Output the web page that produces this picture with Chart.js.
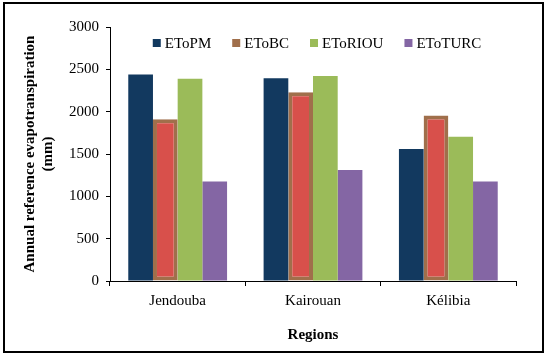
<!DOCTYPE html>
<html>
<head>
<meta charset="utf-8">
<script src="https://cdn.jsdelivr.net/npm/chart.js@4.4.0/dist/chart.umd.min.js"></script>
<style>
  body { margin: 0; background: #fff; }
  #wrap { position: relative; width: 550px; height: 358px; }
  #frame { position: absolute; left: 3px; top: 2px; width: 537px; height: 347px; border: 2px solid #000; pointer-events: none; }
</style>
</head>
<body>
<div id="wrap">
  <canvas id="etoChart" width="550" height="358"></canvas>
  <div id="frame"></div>
</div>
<script>
// Regions and annual ETo per method (mm)
const regions = ['Jendouba', 'Kairouan', 'Kélibia'];
const etoPM = [2440, 2395, 1560];
const etoBC = [1910, 2230, 1955];
const etoRIOU = [2390, 2420, 1705];
const etoTURC = [1175, 1310, 1175];
const yTicks = [0, 500, 1000, 1500, 2000, 2500, 3000];

const serif = "'Liberation Serif', 'Times New Roman', serif";

// legend drawn inside the plot area, one row near the top
const innerLegend = {
  id: 'innerLegend',
  afterDraw(chart) {
    const c = chart.ctx;
    const area = chart.chartArea;
    const box = 8, gap = 4, itemGap = 21;
    c.save();
    c.font = '15px ' + serif;
    c.textBaseline = 'middle';
    const items = chart.data.datasets.map(ds => ({
      text: ds.label,
      color: ds.borderColor || ds.backgroundColor,
      w: box + gap + c.measureText(ds.label).width
    }));
    const total = items.reduce((s, it) => s + it.w, 0) + itemGap * (items.length - 1);
    let x = (area.left + area.right) / 2 - total / 2 + 4;
    const y = area.top + 16;
    items.forEach(it => {
      c.fillStyle = it.color;
      c.fillRect(x, y - box / 2, box, box);
      c.fillStyle = '#000';
      c.fillText(it.text, x + box + gap, y + 1);
      x += it.w + itemGap;
    });
    c.restore();
  }
};

const ctx = document.getElementById('etoChart').getContext('2d');
const etoChart = new Chart(ctx, {
  type: 'bar',
  data: {
    labels: regions,
    datasets: [
      { label: 'EToPM', data: etoPM, backgroundColor: '#12395f' },
      { label: 'EToBC', data: etoBC, backgroundColor: '#d8504b', borderColor: '#a06f4b', borderWidth: 4, borderSkipped: false },
      { label: 'EToRIOU', data: etoRIOU, backgroundColor: '#9bbb59' },
      { label: 'EToTURC', data: etoTURC, backgroundColor: '#8466a4' }
    ]
  },
  plugins: [innerLegend],
  options: {
    responsive: false,
    animation: false,
    categoryPercentage: 0.73,
    barPercentage: 1.0,
    layout: { padding: { left: 10, top: 27, right: 34, bottom: 14 } },
    plugins: {
      legend: { display: false },
      tooltip: { enabled: false }
    },
    scales: {
      x: {
        grid: { display: true, drawOnChartArea: false, offset: true, color: '#000', tickLength: 5 },
        border: { color: '#000', width: 1 },
        ticks: { color: '#000', font: { family: serif, size: 15 }, padding: 6 },
        title: { display: true, text: 'Regions', color: '#000', font: { family: serif, size: 15, weight: 'bold' }, padding: { top: 12, bottom: 0 } },
        afterFit(scale) { scale.height = 63; }
      },
      y: {
        min: 0,
        max: 3000,
        grid: { display: true, drawOnChartArea: false, color: '#000', tickLength: 4 },
        border: { color: '#000', width: 1 },
        afterBuildTicks(scale) { scale.ticks = yTicks.map(v => ({ value: v })); },
        ticks: { color: '#000', font: { family: serif, size: 15 }, padding: 7, callback: v => String(v) },
        title: {
          display: true,
          text: ['Annual reference evapotranspiration', '(mm)'],
          color: '#000',
          font: { family: serif, size: 15, weight: 'bold' },
          padding: { top: 11, bottom: 0 }
        },
        afterFit(scale) { scale.width = 100; }
      }
    }
  }
});
</script>
</body>
</html>
